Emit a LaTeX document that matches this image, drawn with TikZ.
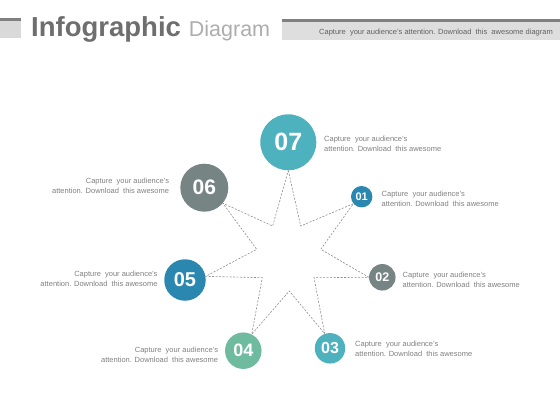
\documentclass[tikz,border=0pt]{standalone}
\usepackage{fontspec}
\setmainfont{Liberation Sans}
\definecolor{cteal}{RGB}{77,177,190}
\definecolor{cblue}{RGB}{42,135,175}
\definecolor{cslate}{RGB}{118,132,132}
\definecolor{cgreen}{RGB}{111,187,160}
\definecolor{txtgray}{RGB}{128,128,128}
\newcommand{\blurb}{Capture\ \ your audience's\\attention. Download\ \ this awesome}

\begin{document}
\begin{tikzpicture}[x=1pt, y=-1pt,
    num/.style={circle, inner sep=0pt, text=white},
    desc/.style={inner sep=0pt, text=txtgray, font=\fontsize{7.5}{10}\selectfont},
    starline/.style={draw=black!45, dash pattern=on 2pt off 1.5pt, line width=0.6pt}]
    \useasboundingbox (0,0) rectangle (560,420);

    % header
    \fill[black!15] (0,18.3) rectangle (20.7,38.3);
    \fill[black!50] (0,18.3) rectangle (20.7,20.7);
    \fill[black!13] (281.7,19) rectangle (560,40);
    \fill[black!50] (281.7,19) rectangle (560,21.7);
    \node (title) [anchor=base west, inner sep=0pt] at (31,36.7)
        {{\fontsize{27.5}{30}\selectfont\bfseries\color{black!57}Infographic}\hspace{8pt}{\fontsize{21.5}{24}\selectfont\color{black!32}Diagram}};
    \node (subtitle) [anchor=east, inner sep=0pt, text=black!62, font=\fontsize{7.5}{9}\selectfont] at (553,32.7)
        {Capture\ \ your audience's attention. Download\ \ this\ \ awesome diagram};

    % numbered circles
    \node (c07) [num, fill=cteal, minimum size=56, font=\fontsize{25}{25}\selectfont\bfseries] at (288.3,142.3) {07};
    \node (c06) [num, fill=cslate, minimum size=48, font=\fontsize{21}{21}\selectfont\bfseries] at (204.3,187.7) {06};
    \node (c05) [num, fill=cblue, minimum size=41.5, font=\fontsize{20}{20}\selectfont\bfseries] at (185,280) {05};
    \node (c04) [num, fill=cgreen, minimum size=36.5, font=\fontsize{18}{18}\selectfont\bfseries] at (243.3,350.7) {04};
    \node (c03) [num, fill=cteal, minimum size=30.5, font=\fontsize{16}{16}\selectfont\bfseries] at (330,348.3) {03};
    \node (c02) [num, fill=cslate, minimum size=26.5, font=\fontsize{12.5}{12.5}\selectfont\bfseries] at (382.3,277.3) {02};
    \node (c01) [num, fill=cblue, minimum size=21.4, font=\fontsize{11}{11}\selectfont\bfseries] at (361.7,196.7) {01};

    % inner corners of the star
    \coordinate (in1) at (300.7,226);
    \coordinate (in2) at (320.7,249.3);
    \coordinate (in3) at (314,277.7);
    \coordinate (in4) at (289.3,291);
    \coordinate (in5) at (262.3,277.7);
    \coordinate (in6) at (256.7,249.3);
    \coordinate (in7) at (272.7,226);

    \draw[starline] (c07.south) -- (in1) -- (c01.220) -- (in2) -- (c02.west) -- (in3)
        -- (c03.110) -- (in4) -- (c04.63) -- (in5) -- (c05.10) -- (in6)
        -- (c06.-40) -- (in7) -- cycle;

    % descriptions
    \node (d07) [desc, anchor=west, align=left] at (324,144) {\blurb};
    \node (d01) [desc, anchor=west, align=left] at (381.5,199) {\blurb};
    \node (d02) [desc, anchor=west, align=left] at (402.5,279.7) {\blurb};
    \node (d03) [desc, anchor=west, align=left] at (355,348.7) {\blurb};
    \node (d04) [desc, anchor=east, align=right] at (218.3,354.7) {\blurb};
    \node (d05) [desc, anchor=east, align=right] at (157.7,279) {\blurb};
    \node (d06) [desc, anchor=east, align=right] at (169.3,185.7) {\blurb};
\end{tikzpicture}
\end{document}
